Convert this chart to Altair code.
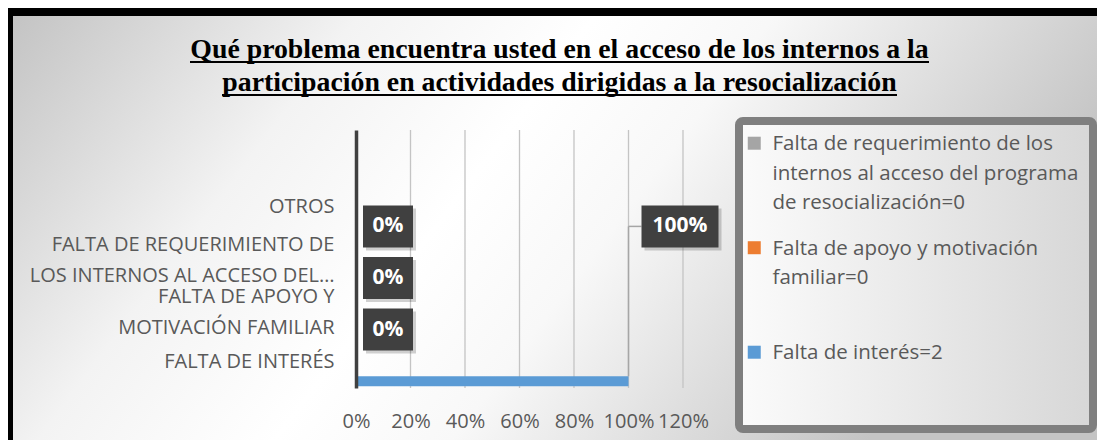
import altair as alt
import pandas as pd

# ---------------- data ----------------
categorias = [
    "",
    "OTROS",
    "FALTA DE REQUERIMIENTO DE LOS INTERNOS AL ACCESO DEL…",
    "FALTA DE APOYO Y MOTIVACIÓN FAMILIAR",
    "FALTA DE INTERÉS",
]
lineas_categorias = {
    "FALTA DE REQUERIMIENTO DE LOS INTERNOS AL ACCESO DEL…": ["FALTA DE REQUERIMIENTO DE", "LOS INTERNOS AL ACCESO DEL…"],
    "FALTA DE APOYO Y MOTIVACIÓN FAMILIAR": ["FALTA DE APOYO Y", "MOTIVACIÓN FAMILIAR"],
}
series = [
    "Falta de requerimiento de los internos al acceso del programa de resocialización=0",
    "Falta de apoyo y motivación familiar=0",
    "Falta de interés=2",
]
lineas_series = {
    series[0]: ["Falta de requerimiento de los", "internos al acceso del programa", "de resocialización=0"],
    series[1]: ["Falta de apoyo y motivación", "familiar=0"],
}
colores = ["#A5A5A5", "#ED7D31", "#5B9BD5"]

barra_categorias = ["OTROS", categorias[2], categorias[3], "FALTA DE INTERÉS"]
barra_valores = [0.0, 0.0, 0.0, 1.0]
barra_serie = "Falta de interés=2"
# the 100% label was dragged up next to the OTROS row (with a leader line)
etiqueta_posicion = ["OTROS", categorias[2], categorias[3], "OTROS"]

ticks_x = [0, 0.2, 0.4, 0.6, 0.8, 1.0, 1.2]
titulo = [
    "Qué problema encuentra usted en el acceso de los internos a la",
    "participación en actividades dirigidas a la resocialización",
]

df = pd.DataFrame({
    "categoria": barra_categorias,
    "valor": barra_valores,
    "serie": barra_serie,
    "pos_etiqueta": etiqueta_posicion,
})
df_grid = pd.DataFrame({"tick": ticks_x[1:]})

# ---------------- helpers ----------------
W, H = 327, 258
FONT = "Open Sans"
TXT = "#595959"


def label_expr(mapping):
    parts = []
    for k, lines in mapping.items():
        arr = "[" + ",".join("'" + s + "'" for s in lines) + "]"
        parts.append("datum.label == '" + k + "' ? " + arr + " : ")
    return "".join(parts) + "datum.label"


multi_test = "indexof([" + ",".join("'" + k + "'" for k in lineas_categorias) + "], datum.value) >= 0"

x_scale = alt.Scale(domain=[0, 1.2], nice=False, zero=True)
x_axis = alt.Axis(values=ticks_x, format=".0%", grid=False, domain=False, ticks=False,
                  tickSize=0, title=None, labelPadding=23, labelFontSize=20, labelFont=FONT,
                  labelColor=TXT, labelOverlap=False, labelFlush=False, labelBound=False, zindex=1)
y_scale = alt.Scale(domain=categorias, paddingInner=0, paddingOuter=0)
y_axis = alt.Axis(title=None, ticks=False, tickSize=0, domainColor="#404040", domainWidth=3.5,
                  labelPadding=22, labelFontSize=20, labelFont=FONT, labelColor=TXT,
                  labelLimit=400, labelLineHeight=31, labelAlign="right", labelBaseline="middle",
                  labelOffset={"condition": {"test": multi_test, "value": -14}, "value": 0},
                  labelExpr=label_expr(lineas_categorias), grid=False, zindex=1)


def X(f):
    return alt.X(f, type="quantitative", scale=x_scale, axis=x_axis, stack=None)


def Y(f):
    return alt.Y(f, type="nominal", scale=y_scale, axis=y_axis)


uno = alt.Data(values=[{}])

# ---------------- decoration ----------------
fondo = alt.Chart(uno).mark_rect(
    fill=alt.LinearGradient(gradient="linear", x1=0, x2=1, y1=0, y2=0.3, stops=[
        alt.GradientStop(offset=0, color="#C2C2C2"),
        alt.GradientStop(offset=0.3, color="#F3F3F3"),
        alt.GradientStop(offset=0.5, color="#FFFFFF"),
        alt.GradientStop(offset=0.65, color="#F8F8F8"),
        alt.GradientStop(offset=1, color="#C4C4C4"),
    ])
).encode(x=alt.value(-348), x2=alt.value(741), y=alt.value(-122), y2=alt.value(310))

marco_sup = alt.Chart(uno).mark_rule(color="#000000", strokeWidth=16).encode(
    x=alt.value(-348), x2=alt.value(741), y=alt.value(-122))
marco_izq = alt.Chart(uno).mark_rule(color="#000000", strokeWidth=10).encode(
    x=alt.value(-348), y=alt.value(-122), y2=alt.value(310))

marco_leyenda = alt.Chart(uno).mark_rect(
    fill=alt.LinearGradient(gradient="linear", x1=0, x2=1, y1=0, y2=0, stops=[
        alt.GradientStop(offset=0, color="#FBFBFB"),
        alt.GradientStop(offset=1, color="#D7D7D7"),
    ]),
    stroke="#7F7F7F", strokeWidth=8, cornerRadius=4,
).encode(x=alt.value(383), x2=alt.value(737), y=alt.value(-9), y2=alt.value(299))

titulo_txt = alt.Chart(uno).mark_text(
    text=titulo, font="Liberation Serif", fontSize=27.8, fontWeight="bold", color="#000000",
    align="center", baseline="alphabetic", lineHeight=32.4,
).encode(x=alt.value(203.5), y=alt.value(-71.7))
subrayado1 = alt.Chart(uno).mark_rule(color="#000000", strokeWidth=2).encode(
    x=alt.value(-166), x2=alt.value(573), y=alt.value(-68))
subrayado2 = alt.Chart(uno).mark_rule(color="#000000", strokeWidth=2).encode(
    x=alt.value(-134), x2=alt.value(541), y=alt.value(-35))

# ---------------- chart layers ----------------
grid = alt.Chart(df_grid).mark_rule(color="#C4C4C4", strokeWidth=1.3).encode(
    x=X("tick"), y=alt.value(0), y2=alt.value(H))

barras = alt.Chart(df).mark_bar(height=10, yOffset=19).encode(
    x=X("valor"),
    y=Y("categoria"),
    color=alt.Color("serie:N", scale=alt.Scale(domain=series, range=colores),
                    legend=alt.Legend(
                        title=None, orient="none", legendX=388, legendY=-6, direction="vertical",
                        symbolType="M-1,0.38H1V2.38H-1Z", symbolSize=169, symbolStrokeWidth=0,
                        symbolOpacity=1, labelFont=FONT, labelFontSize=20.5, labelColor=TXT,
                        labelLimit=400, labelOffset=8, labelBaseline="top",
                        labelExpr=label_expr(lineas_series), padding=0, rowPadding=14.5,
                        gridAlign="all", zindex=1)),
)

lider_v = alt.Chart(df).transform_filter("datum.valor == 1").mark_rule(
    color="#A6A6A6", strokeWidth=1.5, yOffset=19, y2Offset=14).encode(
    x=X("valor"), y=Y("pos_etiqueta"), y2=alt.Y2("categoria"))
lider_h = alt.Chart(df).transform_filter("datum.valor == 1").mark_rule(
    color="#A6A6A6", strokeWidth=1.5, yOffset=19, x2Offset=13).encode(
    x=X("valor"), x2=alt.X2("valor"), y=Y("pos_etiqueta"))

sombra0 = alt.Chart(df).transform_filter("datum.valor == 0").mark_bar(
    height=42, yOffset=22, xOffset=10, x2Offset=60, color="#000000", opacity=0.18).encode(
    x=X("valor"), x2=alt.X2("valor"), y=Y("pos_etiqueta"))
caja0 = alt.Chart(df).transform_filter("datum.valor == 0").mark_bar(
    height=42, yOffset=19, xOffset=7, x2Offset=57, color="#404040").encode(
    x=X("valor"), x2=alt.X2("valor"), y=Y("pos_etiqueta"))
texto0 = alt.Chart(df).transform_filter("datum.valor == 0").mark_text(
    dx=32, dy=19, color="#FFFFFF", font=FONT, fontWeight="bold", fontSize=21,
    align="center", baseline="middle").encode(
    x=X("valor"), y=Y("pos_etiqueta"), text=alt.Text("valor:Q", format=".0%"))

sombra1 = alt.Chart(df).transform_filter("datum.valor == 1").mark_bar(
    height=42, yOffset=22, xOffset=16, x2Offset=93, color="#000000", opacity=0.18).encode(
    x=X("valor"), x2=alt.X2("valor"), y=Y("pos_etiqueta"))
caja1 = alt.Chart(df).transform_filter("datum.valor == 1").mark_bar(
    height=42, yOffset=19, xOffset=13, x2Offset=90, color="#404040").encode(
    x=X("valor"), x2=alt.X2("valor"), y=Y("pos_etiqueta"))
texto1 = alt.Chart(df).transform_filter("datum.valor == 1").mark_text(
    dx=51.5, dy=19, color="#FFFFFF", font=FONT, fontWeight="bold", fontSize=21,
    align="center", baseline="middle").encode(
    x=X("valor"), y=Y("pos_etiqueta"), text=alt.Text("valor:Q", format=".0%"))

chart = alt.layer(
    fondo, marco_sup, marco_izq, marco_leyenda, grid, barras, lider_v, lider_h,
    sombra0, caja0, texto0, sombra1, caja1, texto1, titulo_txt, subrayado1, subrayado2,
).properties(
    width=W, height=H,
    autosize=alt.AutoSizeParams(type="none"),
    padding={"left": 348, "top": 122, "right": 414, "bottom": 52},
    background="#FFFFFF",
).configure(
    style={"guide-label": {"lineHeight": 29.5}},
    view=alt.ViewConfig(strokeWidth=0),
)

chart.save("out.html", embed_options={"renderer": "svg", "actions": False})
